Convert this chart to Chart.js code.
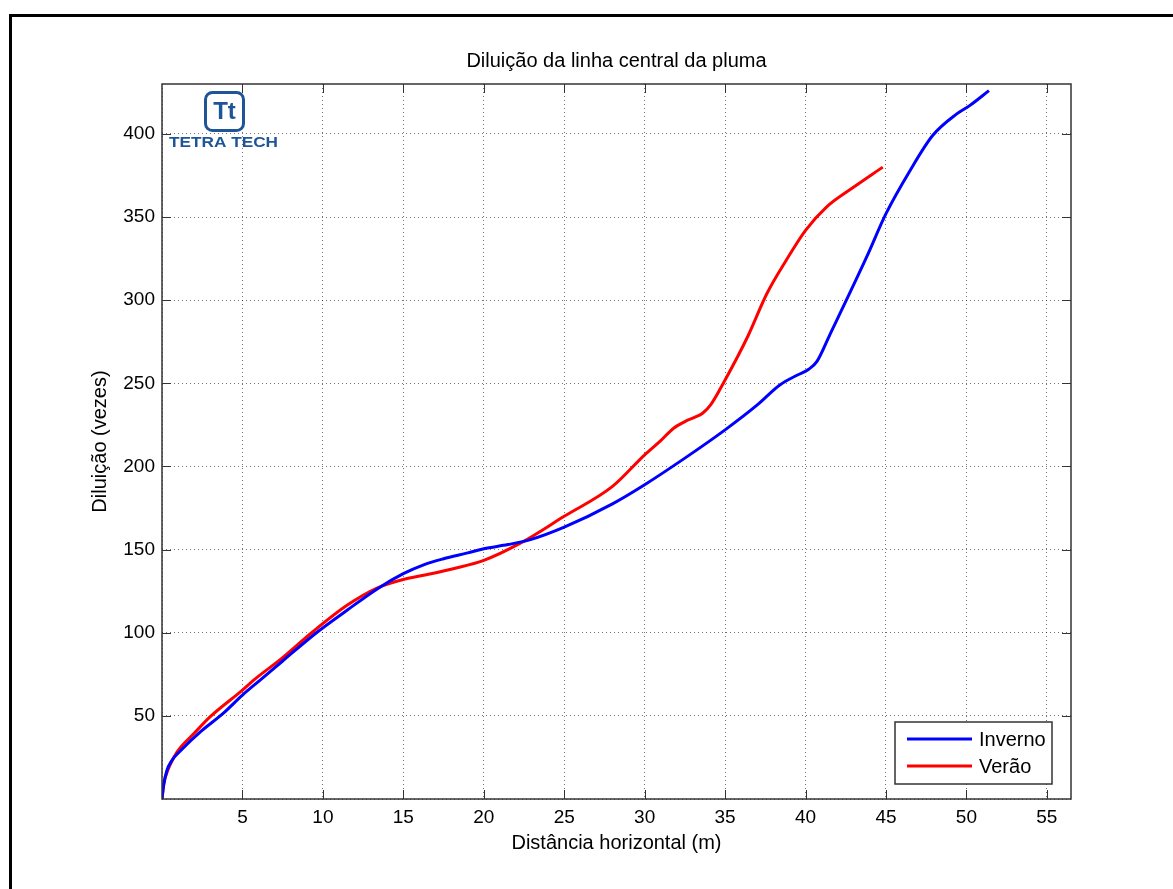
<!DOCTYPE html>
<html>
<head>
<meta charset="utf-8">
<title>Diluição da linha central da pluma</title>
<script src="https://cdn.jsdelivr.net/npm/chart.js@4.4.1/dist/chart.umd.min.js"></script>
<style>
    html, body { margin: 0; padding: 0; background: #fff; }
    #wrap { position: relative; width: 1173px; height: 889px; }
</style>
</head>
<body>
<div id="wrap"><canvas id="plumeChart" width="1173" height="889"></canvas></div>
<script>
// Distância horizontal (m) vs diluição (vezes), inverno
const invernoX = [0, 0.1, 0.3, 0.6, 1.15, 2.4, 3.8, 5, 6.1, 7.5, 9.6, 11.5, 13.4, 15, 16.3, 17.5, 19, 20, 21.5, 22.9, 25, 28, 30, 32.5, 35, 37, 38.4, 39.5, 40.2, 40.7, 41.5, 43.8, 45, 46.5, 47.9, 49.4, 50.2, 51.4];
const invernoY = [0, 8, 17, 23, 29, 40.5, 51.5, 62.5, 71.5, 83, 100, 113.5, 126.5, 135.5, 141, 144.5, 148, 150.5, 153, 156, 163.5, 177.5, 189, 205, 222, 237, 249, 255, 258.5, 263, 279, 326, 352, 378, 399, 412, 417, 426];

// same for verão
const veraoX = [0, 0.1, 0.22, 0.5, 0.95, 2, 3, 5, 5.7, 7.5, 9.3, 11.5, 13.4, 15, 16.5, 18.1, 20, 22.3, 25, 28, 30, 31, 31.8, 32.5, 33.1, 33.6, 34.1, 35, 36.4, 37.6, 38.8, 40, 41.3, 43, 44.8];
const veraoY = [0, 9, 13.5, 20.5, 28.5, 39.5, 49.5, 65.5, 71.5, 85, 100, 116.5, 127, 132, 135, 138.5, 143.5, 154, 170, 188, 207, 215.5, 223, 227, 229.5, 232, 237, 252, 278, 304, 324, 342, 356, 368, 380];

// labelled ticks
const xTicks = [5, 10, 15, 20, 25, 30, 35, 40, 45, 50, 55];
const yTicks = [50, 100, 150, 200, 250, 300, 350, 400];

const FONT = "'Liberation Sans', Arial, Helvetica, sans-serif";
const GRID_COLOR = 'rgba(0, 0, 0, 0.55)';
const AXIS_COLOR = '#333';

function toPoints(xs, ys) {
    return xs.map((x, i) => ({ x: x, y: ys[i] }));
}

// black frame round the figure (only left and top edges show)
const framePlugin = {
    id: 'frame',
    beforeDraw(chart) {
        const ctx = chart.ctx;
        ctx.save();
        ctx.fillStyle = '#fff';
        ctx.fillRect(0, 0, chart.width, chart.height);
        ctx.fillStyle = '#000';
        ctx.fillRect(9, 14, 3, chart.height - 14);
        ctx.fillRect(9, 14, chart.width - 9, 3);
        ctx.restore();
    }
};

// box round the axes with inward tick marks on all four sides
const axesBoxPlugin = {
    id: 'axesBox',
    afterDatasetsDraw(chart) {
        const { ctx, chartArea: a, scales } = chart;
        const len = 9;
        ctx.save();
        ctx.strokeStyle = AXIS_COLOR;
        ctx.lineWidth = 1;
        ctx.beginPath();
        xTicks.forEach(v => {
            const px = Math.round(scales.x.getPixelForValue(v)) + 0.5;
            ctx.moveTo(px, a.bottom); ctx.lineTo(px, a.bottom - len);
            ctx.moveTo(px, a.top); ctx.lineTo(px, a.top + len);
        });
        yTicks.forEach(v => {
            const py = Math.round(scales.y.getPixelForValue(v)) + 0.5;
            ctx.moveTo(a.left, py); ctx.lineTo(a.left + len, py);
            ctx.moveTo(a.right, py); ctx.lineTo(a.right - len, py);
        });
        ctx.stroke();
        ctx.lineWidth = 1.5;
        ctx.strokeRect(Math.round(a.left), Math.round(a.top),
            Math.round(a.right - a.left), Math.round(a.bottom - a.top));
        ctx.restore();
    }
};

// legend box in the lower right corner of the axes
const boxLegendPlugin = {
    id: 'boxLegend',
    afterDraw(chart) {
        const { ctx, chartArea: a } = chart;
        const w = 157, h = 62;
        const x0 = a.right - 19 - w, y0 = a.bottom - 15 - h;
        ctx.save();
        ctx.fillStyle = '#fff';
        ctx.fillRect(x0, y0, w, h);
        ctx.strokeStyle = '#333';
        ctx.lineWidth = 1.5;
        ctx.strokeRect(x0, y0, w, h);
        ctx.font = '20px ' + FONT;
        ctx.textBaseline = 'middle';
        ctx.fillStyle = '#000';
        chart.data.datasets.forEach((ds, i) => {
            const ly = y0 + 17 + i * 27;
            ctx.strokeStyle = ds.borderColor;
            ctx.lineWidth = 3;
            ctx.beginPath();
            ctx.moveTo(x0 + 12, ly);
            ctx.lineTo(x0 + 77, ly);
            ctx.stroke();
            ctx.fillText(ds.label, x0 + 84, ly + 1);
        });
        ctx.restore();
    }
};

// Tetra Tech logo in the upper left corner
const logoPlugin = {
    id: 'logo',
    afterDraw(chart) {
        const ctx = chart.ctx;
        const blue = '#1d5596';
        ctx.save();
        ctx.strokeStyle = blue;
        ctx.lineWidth = 3;
        const bx = 205.5, by = 92.5, bs = 38, r = 7;
        ctx.beginPath();
        ctx.moveTo(bx + r, by);
        ctx.arcTo(bx + bs, by, bx + bs, by + bs, r);
        ctx.arcTo(bx + bs, by + bs, bx, by + bs, r);
        ctx.arcTo(bx, by + bs, bx, by, r);
        ctx.arcTo(bx, by, bx + bs, by, r);
        ctx.closePath();
        ctx.stroke();
        ctx.fillStyle = blue;
        ctx.textAlign = 'center';
        ctx.textBaseline = 'middle';
        ctx.font = 'bold 24px ' + FONT;
        ctx.fillText('Tt', bx + bs / 2, by + bs / 2 + 1);
        // word mark, stretched to the logo width
        ctx.font = 'bold 15px ' + FONT;
        ctx.textAlign = 'left';
        const word = 'TETRA TECH';
        const tw = ctx.measureText(word).width;
        ctx.translate(169, 143);
        ctx.scale(109 / tw, 1);
        ctx.fillText(word, 0, 0);
        ctx.restore();
    }
};

const ctx = document.getElementById('plumeChart').getContext('2d');
const plumeChart = new Chart(ctx, {
    type: 'line',
    data: {
        datasets: [
            {
                label: 'Inverno',
                data: toPoints(invernoX, invernoY),
                borderColor: '#0000ff',
                borderWidth: 3,
                pointRadius: 0,
                cubicInterpolationMode: 'monotone',
                fill: false
            },
            {
                label: 'Verão',
                data: toPoints(veraoX, veraoY),
                borderColor: '#ff0000',
                borderWidth: 3,
                pointRadius: 0,
                cubicInterpolationMode: 'monotone',
                fill: false
            }
        ]
    },
    options: {
        responsive: false,
        animation: false,
        devicePixelRatio: 1,
        layout: { padding: { left: 84, right: 102, top: 49, bottom: 31 } },
        plugins: {
            legend: { display: false },
            tooltip: { enabled: false },
            title: {
                display: true,
                fullSize: false,
                text: 'Diluição da linha central da pluma',
                color: '#000',
                font: { family: FONT, size: 20, weight: 'normal' },
                padding: { top: 0, bottom: 11 }
            }
        },
        scales: {
            x: {
                type: 'linear',
                min: 0,
                max: 56.5,
                afterFit: s => { s.height = 59; },
                ticks: {
                    stepSize: 5,
                    includeBounds: false,
                    autoSkip: false,
                    maxRotation: 0,
                    padding: 7,
                    color: '#000',
                    font: { family: FONT, size: 19 },
                    callback: v => xTicks.includes(v) ? String(v) : ''
                },
                grid: { color: GRID_COLOR, lineWidth: 1, drawTicks: false },
                border: { display: false, dash: [1, 3] },
                title: {
                    display: true,
                    text: 'Distância horizontal (m)',
                    color: '#000',
                    font: { family: FONT, size: 20 },
                    padding: { top: 4, bottom: 3 }
                }
            },
            y: {
                type: 'linear',
                min: 0,
                max: 430,
                afterFit: s => { s.width = 78; },
                ticks: {
                    stepSize: 50,
                    includeBounds: false,
                    padding: 7,
                    color: '#000',
                    font: { family: FONT, size: 19 },
                    callback: v => yTicks.includes(v) ? String(v) : ''
                },
                grid: { color: GRID_COLOR, lineWidth: 1, drawTicks: false },
                border: { display: false, dash: [1, 3] },
                title: {
                    display: true,
                    text: 'Diluição (vezes)',
                    color: '#000',
                    font: { family: FONT, size: 20 },
                    padding: { top: 4, bottom: 4 }
                }
            }
        }
    },
    plugins: [framePlugin, axesBoxPlugin, boxLegendPlugin, logoPlugin]
});
</script>
</body>
</html>
